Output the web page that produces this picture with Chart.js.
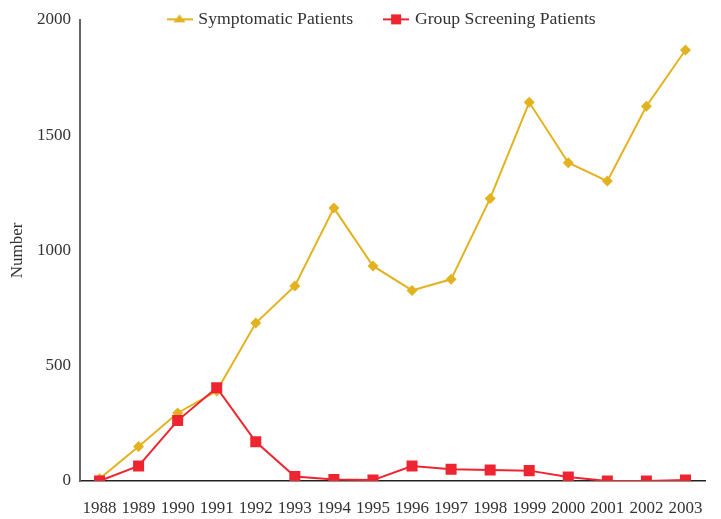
<!DOCTYPE html>
<html>
<head>
<meta charset="utf-8">
<script src="https://cdn.jsdelivr.net/npm/chart.js@4/dist/chart.umd.min.js"></script>
<style>
  html, body { margin: 0; padding: 0; background: #fff; }
  #wrap { width: 721px; height: 519px; }
</style>
</head>
<body>
<div id="wrap"><canvas id="c" width="721" height="519"></canvas></div>
<script>
// Yearly patient counts
const years = ['1988','1989','1990','1991','1992','1993','1994','1995','1996','1997','1998','1999','2000','2001','2002','2003'];
const symptomatic = [10, 150, 295, 390, 685, 846, 1184, 933, 827, 875, 1226, 1643, 1381, 1301, 1626, 1870];
const screening = [0, 65, 262, 405, 170, 19, 6, 4, 65, 51, 48, 45, 17, 0, 0, 4];
const yTicks = [0, 500, 1000, 1500, 2000];

const YELLOW = '#E2B21F';
const RED = '#EE2530';
const FONT = 'Liberation Serif';

// Legend icons: a short line with the series marker on it
function legendIcon(color, shape) {
  const cv = document.createElement('canvas');
  cv.width = 26; cv.height = 12;
  const g = cv.getContext('2d');
  g.strokeStyle = color; g.fillStyle = color; g.lineWidth = 2;
  g.beginPath(); g.moveTo(0, 6); g.lineTo(26, 6); g.stroke();
  g.beginPath();
  if (shape === 'triangle') {
    g.moveTo(13, 1); g.lineTo(19, 9); g.lineTo(7, 9); g.closePath();
  } else {
    g.rect(8, 1, 10, 10);
  }
  g.fill();
  return cv;
}
const icons = [legendIcon(YELLOW, 'triangle'), legendIcon(RED, 'square')];

const LEGEND_PAD = 33;
// Place the legend row near the top edge, over the plot
const legendPlacer = {
  id: 'legendPlacer',
  afterLayout(chart) {
    const lg = chart.legend;
    const w = lg.width;
    lg.left = 169.5 - LEGEND_PAD; lg.right = lg.left + w;
    lg.top = 10.5 - LEGEND_PAD; lg.bottom = lg.top + LEGEND_PAD + 40;
  }
};

new Chart(document.getElementById('c'), {
  type: 'line',
  data: {
    labels: years,
    datasets: [
      {
        label: 'Symptomatic Patients',
        data: symptomatic,
        borderColor: YELLOW,
        backgroundColor: YELLOW,
        borderWidth: 2,
        pointStyle: 'rectRot',
        pointRadius: 5.5,
        pointBorderWidth: 0,
        tension: 0,
        order: 1
      },
      {
        label: 'Group Screening Patients',
        data: screening,
        borderColor: RED,
        backgroundColor: RED,
        borderWidth: 2,
        pointStyle: 'rect',
        pointRadius: 7.8,
        pointBorderWidth: 0,
        tension: 0,
        order: 0
      }
    ]
  },
  plugins: [legendPlacer],
  options: {
    responsive: false,
    animation: false,
    layout: { padding: { left: 0, right: 16, top: 0, bottom: 0 } },
    plugins: {
      tooltip: { enabled: false },
      legend: {
        position: 'top',
        align: 'start',
        maxHeight: 20,
        labels: {
          usePointStyle: true,
          pointStyleWidth: 20,
          padding: LEGEND_PAD,
          color: '#333',
          font: { family: FONT, size: 17.7 },
          sort: (a, b) => a.datasetIndex - b.datasetIndex,
          generateLabels(chart) {
            const items = Chart.defaults.plugins.legend.labels.generateLabels(chart);
            items.forEach(it => { it.pointStyle = icons[it.datasetIndex]; });
            return items;
          }
        }
      }
    },
    scales: {
      x: {
        offset: true,
        grid: { display: false, drawTicks: false },
        border: { display: true, color: '#222', width: 1.5 },
        ticks: { color: '#333', font: { family: FONT, size: 17 }, padding: 17, maxRotation: 0, autoSkip: false },
        afterFit(s) { s.height = 38; }
      },
      y: {
        min: 0,
        max: 2000,
        grid: { display: false, drawTicks: false },
        border: { display: true, color: '#666', width: 2 },
        afterBuildTicks(s) { s.ticks = yTicks.map(v => ({ value: v })); },
        ticks: { color: '#333', font: { family: FONT, size: 17 }, padding: 9, callback: v => String(v) },
        title: { display: true, text: 'Number', color: '#333', font: { family: FONT, size: 17 }, padding: { top: 7, bottom: 0 } },
        afterFit(s) { s.width = 80; }
      }
    }
  }
});
</script>
</body>
</html>
